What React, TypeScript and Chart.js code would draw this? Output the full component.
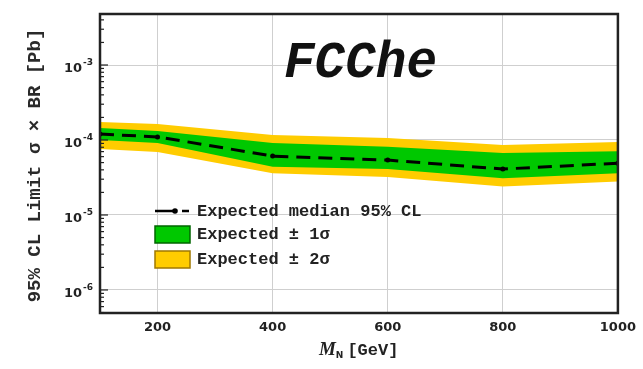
import React, { useEffect, useRef } from "react";
import { Chart, registerables } from "chart.js";

Chart.register(...registerables);

// ---- data ----
const MASSES = [100, 200, 400, 600, 800, 1000];
const MEDIAN = [1.2e-4, 1.1e-4, 0.61e-4, 0.54e-4, 0.41e-4, 0.49e-4];
const SIG1_UP = [1.45e-4, 1.32e-4, 0.91e-4, 0.81e-4, 0.67e-4, 0.71e-4];
const SIG1_DN = [1.0e-4, 0.91e-4, 0.44e-4, 0.41e-4, 0.31e-4, 0.36e-4];
const SIG2_UP = [1.74e-4, 1.63e-4, 1.17e-4, 1.06e-4, 0.86e-4, 0.94e-4];
const SIG2_DN = [0.76e-4, 0.69e-4, 0.36e-4, 0.32e-4, 0.24e-4, 0.28e-4];
const X_TICKS = [200, 400, 600, 800, 1000];
const X_TICK_LABELS = ["200", "400", "600", "800", "1000"];
const Y_TICKS = [1e-6, 1e-5, 1e-4, 1e-3];
const Y_TICK_EXPONENTS = ["-6", "-5", "-4", "-3"];
const LEGEND_LABELS = ["Expected median 95% CL", "Expected ± 1σ", "Expected ± 2σ"];
const TITLE = "FCChe";
const Y_TITLE = "95% CL Limit σ × BR [Pb]";

const GREEN = "#00c800";
const YELLOW = "#ffcc00";

const pts = (ys: number[]) => MASSES.map((x, i) => ({ x, y: ys[i] }));

const decorPlugin = {
  id: "decor",
  afterDraw(chart: any) {
    const ctx = chart.ctx as CanvasRenderingContext2D;
    const a = chart.chartArea;
    const ys = chart.scales.y;
    ctx.save();
    // frame
    ctx.strokeStyle = "#222";
    ctx.lineWidth = 2.5;
    ctx.strokeRect(a.left, a.top, a.right - a.left, a.bottom - a.top);
    // y minor/major ticks (inward)
    ctx.lineWidth = 1.2;
    for (let e = -7; e <= -2; e++) {
      for (let k = 1; k <= 9; k++) {
        const v = k * Math.pow(10, e);
        if (v < ys.min || v > ys.max) continue;
        const py = ys.getPixelForValue(v);
        const len = k === 1 ? 8 : 4;
        ctx.beginPath();
        ctx.moveTo(a.left, py);
        ctx.lineTo(a.left + len, py);
        ctx.stroke();
      }
    }
    // y tick labels with superscripts
    ctx.fillStyle = "#222";
    ctx.textBaseline = "middle";
    Y_TICKS.forEach((v, i) => {
      const py = ys.getPixelForValue(v);
      ctx.font = "bold 9px 'DejaVu Sans'";
      ctx.textAlign = "right";
      const ew = ctx.measureText(Y_TICK_EXPONENTS[i]).width;
      ctx.fillText(Y_TICK_EXPONENTS[i], a.left - 7, py - 2);
      ctx.font = "bold 13px 'DejaVu Sans'";
      ctx.fillText("10", a.left - 8 - ew, py + 4);
    });
    // y title
    ctx.save();
    ctx.translate(35, (a.top + a.bottom) / 2 + 2);
    ctx.rotate(-Math.PI / 2);
    ctx.textAlign = "center";
    ctx.textBaseline = "middle";
    ctx.font = "bold 19px 'Liberation Mono'";
    ctx.fillStyle = "#2a2a2a";
    ctx.fillText(Y_TITLE, 0, 0);
    ctx.restore();
    // x title: M_N [GeV]
    ctx.fillStyle = "#222";
    ctx.textAlign = "left";
    ctx.textBaseline = "alphabetic";
    ctx.font = "italic bold 19px 'Liberation Serif'";
    const cx = (a.left + a.right) / 2;
    let x0 = cx - 40;
    const base = 355;
    ctx.fillText("M", x0, base);
    x0 += ctx.measureText("M").width;
    ctx.font = "bold 9px 'DejaVu Sans'";
    ctx.fillText("N", x0, base + 3);
    x0 += ctx.measureText("N").width + 4;
    ctx.font = "bold 17px 'Liberation Mono'";
    ctx.fillText("[GeV]", x0, base);
    // big title
    ctx.font = "italic bold 51px 'Liberation Mono'";
    ctx.fillStyle = "#111";
    ctx.fillText(TITLE, 284, 77);
    // legend
    ctx.font = "bold 17px 'Liberation Mono'";
    ctx.fillStyle = "#222";
    ctx.textBaseline = "middle";
    const lx = 155;
    // row 1: dashed line marker
    ctx.strokeStyle = "#000";
    ctx.lineWidth = 2.5;
    ctx.beginPath();
    ctx.moveTo(lx, 211);
    ctx.lineTo(lx + 20, 211);
    ctx.moveTo(lx + 27, 211);
    ctx.lineTo(lx + 34, 211);
    ctx.stroke();
    ctx.fillStyle = "#000";
    ctx.beginPath();
    ctx.arc(lx + 20, 211, 2.8, 0, Math.PI * 2);
    ctx.fill();
    ctx.fillStyle = "#222";
    ctx.fillText(LEGEND_LABELS[0], 197, 212);
    // row 2
    ctx.fillStyle = GREEN;
    ctx.fillRect(lx, 226, 35, 17);
    ctx.strokeStyle = "#006600";
    ctx.lineWidth = 1.5;
    ctx.strokeRect(lx, 226, 35, 17);
    ctx.fillStyle = "#222";
    ctx.fillText(LEGEND_LABELS[1], 197, 235);
    // row 3
    ctx.fillStyle = YELLOW;
    ctx.fillRect(lx, 251, 35, 17);
    ctx.strokeStyle = "#a07800";
    ctx.strokeRect(lx, 251, 35, 17);
    ctx.fillStyle = "#222";
    ctx.fillText(LEGEND_LABELS[2], 197, 260);
    ctx.restore();
  },
};

export default function App() {
  const ref = useRef<HTMLCanvasElement | null>(null);
  useEffect(() => {
    if (!ref.current) return;
    const chart = new Chart(ref.current, {
      type: "line",
      data: {
        datasets: [
          {
            label: LEGEND_LABELS[0],
            data: pts(MEDIAN),
            borderColor: "#000",
            borderWidth: 3,
            borderDash: [14, 8],
            pointRadius: 2.5,
            pointBackgroundColor: "#000",
            pointBorderWidth: 0,
            fill: false,
            tension: 0,
          },
          {
            label: "1s up",
            data: pts(SIG1_UP),
            borderWidth: 0,
            borderColor: "rgba(0,0,0,0)",
            backgroundColor: GREEN,
            pointRadius: 0,
            fill: "+1",
            tension: 0,
          },
          {
            label: "1s dn",
            data: pts(SIG1_DN),
            borderWidth: 0,
            borderColor: "rgba(0,0,0,0)",
            pointRadius: 0,
            fill: false,
            tension: 0,
          },
          {
            label: "2s up",
            data: pts(SIG2_UP),
            borderWidth: 0,
            borderColor: "rgba(0,0,0,0)",
            backgroundColor: YELLOW,
            pointRadius: 0,
            fill: "+1",
            tension: 0,
          },
          {
            label: "2s dn",
            data: pts(SIG2_DN),
            borderWidth: 0,
            borderColor: "rgba(0,0,0,0)",
            pointRadius: 0,
            fill: false,
            tension: 0,
          },
        ],
      },
      options: {
        responsive: false,
        animation: false,
        devicePixelRatio: 1,
        layout: { padding: { left: 0, right: 23, top: 14, bottom: 0 } },
        plugins: {
          legend: { display: false },
          tooltip: { enabled: false },
          title: { display: false },
        },
        scales: {
          x: {
            type: "linear",
            min: 100,
            max: 1000,
            afterBuildTicks: (s: any) => {
              s.ticks = X_TICKS.map((v) => ({ value: v }));
            },
            afterFit: (s: any) => {
              s.height = 56;
            },
            grid: { color: "#cfcfcf", lineWidth: 1, drawTicks: false },
            border: { display: false },
            ticks: {
              padding: 7,
              color: "#222",
              font: { family: "'DejaVu Sans'", weight: "bold", size: 13 },
              maxRotation: 0,
              callback: (v: any) => {
                const i = X_TICKS.indexOf(Number(v));
                return i >= 0 ? X_TICK_LABELS[i] : "";
              },
            },
          },
          y: {
            type: "logarithmic",
            min: 4.93e-7,
            max: 4.79e-3,
            afterBuildTicks: (s: any) => {
              s.ticks = Y_TICKS.map((v) => ({ value: v }));
            },
            afterFit: (s: any) => {
              s.width = 100;
            },
            grid: { color: "#cfcfcf", lineWidth: 1, drawTicks: false },
            border: { display: false },
            ticks: { display: false },
          },
        },
      },
      plugins: [decorPlugin],
    });
    return () => chart.destroy();
  }, []);
  return (
    <div style={{ position: "absolute", left: 0, top: 0, width: 643, height: 369, background: "#fff" }}>
      <canvas ref={ref} width={643} height={369} style={{ width: 643, height: 369, display: "block" }} />
    </div>
  );
}
